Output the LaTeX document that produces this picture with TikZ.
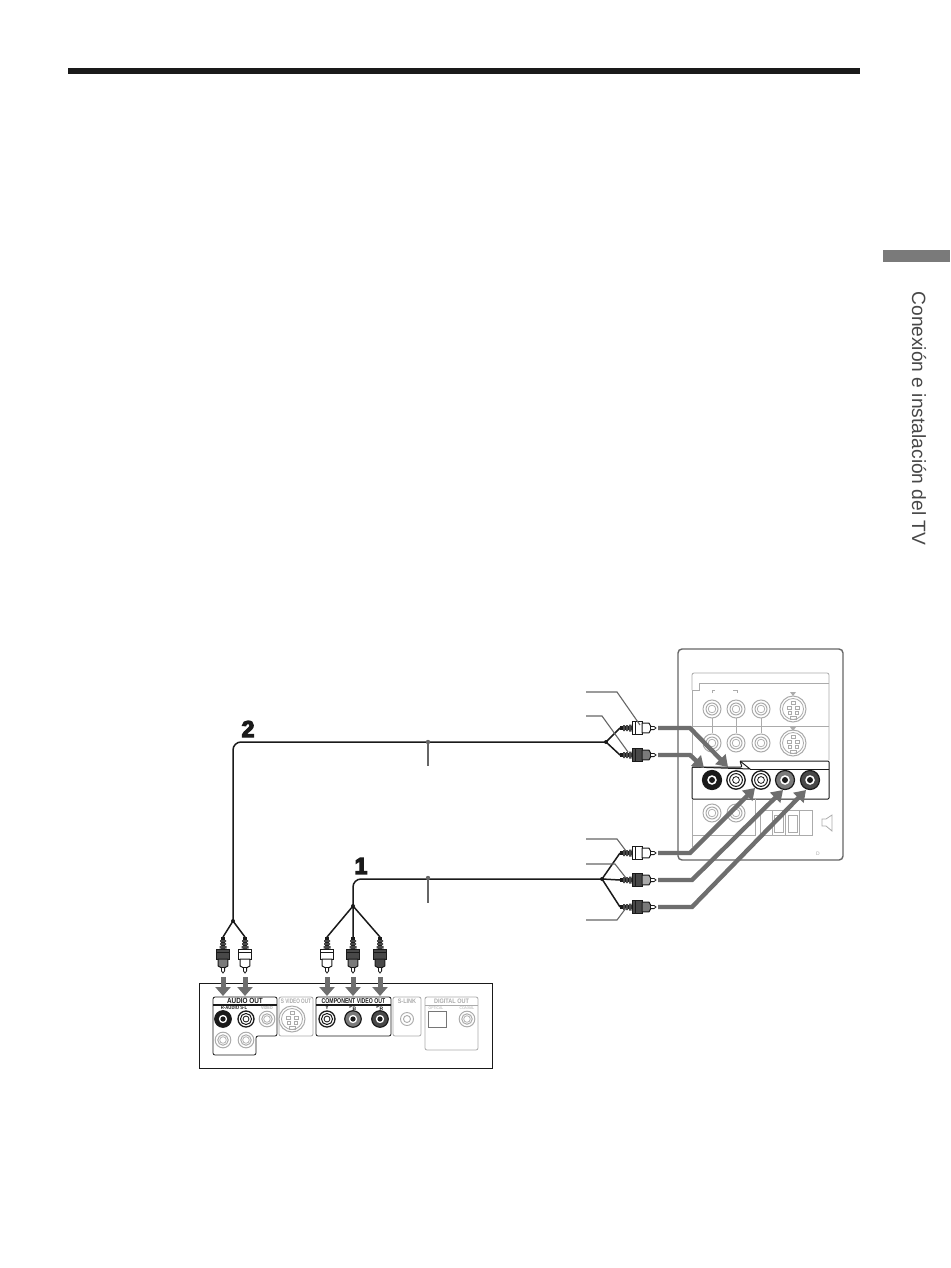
\documentclass[tikz,border=0pt]{standalone}
\usepackage{fontspec}
\usepackage{graphicx}
\setmainfont{Liberation Sans}
\usetikzlibrary{arrows.meta}
\definecolor{ink}{HTML}{1A1A1A}
\definecolor{pale}{HTML}{ABABAB}
\definecolor{arrowgray}{HTML}{6E6E6E}
\definecolor{leader}{HTML}{666666}
\definecolor{midgray}{HTML}{7A7A7A}
\definecolor{darkgray}{HTML}{484848}
\tikzset{
  cablewire/.style={draw=ink,line width=1.5pt},
  leaderline/.style={draw=leader,line width=1.1pt},
  flowh/.style={draw=arrowgray,line width=4.4pt,-{Triangle[width=14pt,length=11pt]}},
  flowv/.style={draw=arrowgray,line width=5pt,-{Triangle[width=15pt,length=9pt]}},
  paleline/.style={draw=pale,line width=.8pt},
  panelline/.style={draw=ink,line width=1pt},
  lbl/.style={inner sep=0pt,outer sep=0pt,text=ink},
  dotnode/.style={circle,fill=ink,inner sep=0pt,minimum size=4pt},
}
\def\jr{1}
% dark jack
\newcommand{\jackdark}[3]{%
  \fill[#3] (#1,#2) circle ({9.5*\jr});
  \draw[ink,line width=1.2pt] (#1,#2) circle ({9.5*\jr});
  \fill[white] (#1,#2) circle ({4.8*\jr});
  \fill[ink] (#1,#2) circle ({3*\jr});
}
\newcommand{\jackwhite}[2]{%
  \fill[white] (#1,#2) circle ({9.5*\jr});
  \draw[ink,line width=1.3pt] (#1,#2) circle ({9.2*\jr});
  \draw[ink,line width=1pt] (#1,#2) circle ({6.4*\jr});
  \draw[ink,line width=.8pt] (#1,#2) circle ({3.4*\jr});
}
\newcommand{\jackpale}[2]{%
  \draw[pale,line width=1pt,fill=white] (#1,#2) circle ({9*\jr});
  \draw[pale,line width=1pt] (#1,#2) circle ({6*\jr});
  \draw[pale,line width=.7pt] (#1,#2) circle ({3.8*\jr});
}
\newcommand{\svideo}[2]{%
  \begin{scope}[shift={(#1,#2)}]
    \draw[pale,line width=1pt,fill=white] (0,0) circle (13);
    \draw[pale,line width=.8pt] (0,0) circle (10.5);
    \draw[pale,line width=.8pt] (-6,-3) rectangle (-2,0) (2,-3) rectangle (6,0);
    \draw[pale,line width=.8pt] (-5,2) rectangle (-2,5) (2,2) rectangle (5,5);
    \draw[pale,line width=.8pt] (-3,7) rectangle (3,10);
    \draw[pale,line width=.8pt] (-2,-8) rectangle (2,-5);
  \end{scope}%
}
% plug: axis runs along local x, from strain relief to tip
\newcommand{\plug}[5]{% x, y, rotation, collar colour, body colour
  \begin{scope}[shift={(#1,#2)},rotate=#3]
    \fill[ink] (0,-2) rectangle (12,2);
    \fill[darkgray] (3,-3) rectangle (5,3) (6,-3) rectangle (8,3) (9,-3.5) rectangle (11.5,3.5);
    \draw[ink,line width=1pt,fill=#5] (12,-6.2) rectangle (22,6.2);
    \draw[ink,line width=.7pt] (15,-6.2) -- (15,6.2);
    \draw[ink,line width=1pt,fill=#4] (22,-4.8) -- (29,-4.8) -- (30.5,-2.2) -- (30.5,2.2) -- (29,4.8) -- (22,4.8) -- cycle;
    \draw[ink,line width=.8pt,fill=white] (30.5,-1.6) -- (34,-1.6) -- (36,0) -- (34,1.6) -- (30.5,1.6) -- cycle;
  \end{scope}%
}
\begin{document}
\begin{tikzpicture}[x=1pt,y=-1pt]
\useasboundingbox (0,0) rectangle (950,1268);
\fill[white] (0,0) rectangle (950,1268);
% page furniture
\fill[ink] (68,68) rectangle (860,74);
\fill[midgray] (883,250) rectangle (950,262);
\node[lbl,rotate=-90,anchor=center,text=darkgray] (sidetitle) at (919,418.5) {\fontsize{19.2}{21}\selectfont Conexión e instalación del TV};

% TV panel
\draw[draw=leader,line width=1.4pt,rounded corners=4pt] (678,649) rectangle (843,860);
\draw[paleline,rounded corners=2pt] (692,690) -- (692,673) -- (829,673) -- (829,760);
\draw[paleline] (692,690) -- (699,690) -- (699,683) -- (829,683);
\draw[paleline] (692,726) -- (829,726);
\draw[paleline] (692,690) -- (692,760);
\draw[pale,line width=.8pt] (712,693) -- (712,690) -- (715,690) (733,690) -- (737,690) -- (737,693);
\foreach \tx in {712,736,761} {\draw[paleline] (\tx,718) -- (\tx,733);}
\foreach \tx in {712,736,761} {\jackpale{\tx}{709}\jackpale{\tx}{743}}
\svideo{793}{709}
\svideo{793}{743}
\fill[pale] (790,692) -- (796,692) -- (793,696) -- cycle;
\fill[pale] (790,727) -- (796,727) -- (793,731) -- cycle;
% highlighted panel
\draw[panelline,rounded corners=1pt,fill=white] (692,767) -- (742,767) -- (740,761) -- (829,761) -- (829,799) -- (692,799) -- cycle;
\draw[panelline] (692,767) -- (750,769) -- (740,761);
\draw[panelline] (750,769) -- (829,769);
\jackdark{712}{780}{ink}
\jackwhite{736}{780}
\jackwhite{761}{780}
\jackdark{785}{780}{midgray}
\jackdark{810}{780}{darkgray}
% below panel
\draw[paleline] (692,799) -- (692,847);
\draw[paleline] (755,799) -- (755,835) -- (692,835);
\jackpale{712}{813}
\jackpale{736}{813}
\draw[paleline] (760,810) rectangle (812,835);
\draw[paleline] (772,810) -- (772,835) (785,810) -- (785,835) (799,810) -- (799,835);
\draw[paleline] (774,815) rectangle (783,832) (788,815) rectangle (797,832);
\draw[paleline] (822,819) -- (826,819) -- (832,815) -- (832,831) -- (826,826) -- (822,826) -- cycle;
\node[lbl,text=pale] (tvmark) at (818,854) {\fontsize{5}{6}\selectfont D};

% named connector ends
\coordinate (hub2) at (606,742);
\coordinate (elbow2) at (233,742);
\coordinate (drop2) at (233,921);
\coordinate (hub1) at (602,879);
\coordinate (elbow1) at (353,879);
\coordinate (drop1) at (353,906);
\coordinate (pA) at (620,728);
\coordinate (pB) at (620,755);
\coordinate (pC) at (620,853);
\coordinate (pD) at (620,880);
\coordinate (pE) at (620,907);
\coordinate (vA) at (223,937);
\coordinate (vB) at (245,937);
\coordinate (vC) at (327,937);
\coordinate (vD) at (353,937);
\coordinate (vE) at (380,937);

% cables
\draw[cablewire,rounded corners=8pt] (hub2) -- (elbow2) -- (drop2);
\draw[cablewire,rounded corners=8pt] (hub1) -- (elbow1) -- (drop1);
\draw[cablewire] (hub2) -- (pA) (hub2) -- (pB);
\draw[cablewire] (hub1) -- (pC) (hub1) -- (pD) (hub1) -- (pE);
\draw[cablewire] (drop2) -- (vA) (drop2) -- (vB);
\draw[cablewire] (drop1) -- (vC) (drop1) -- (vD) (drop1) -- (vE);
\node[dotnode] (hub2dot) at (hub2) {};
\node[dotnode] (hub1dot) at (hub1) {};
\node[dotnode] (drop2dot) at (drop2) {};
\node[dotnode] (drop1dot) at (drop1) {};

% cable leaders
\coordinate (tick2a) at (428,742);
\coordinate (tick2b) at (428,766);
\coordinate (tick1a) at (428,878);
\coordinate (tick1b) at (428,903);
\draw[leaderline,line width=1.3pt] (tick2a) -- (tick2b);
\draw[leaderline,line width=1.3pt] (tick1a) -- (tick1b);
\fill[leader] (tick2a) circle (2.2);
\fill[leader] (tick1a) circle (2.2);

% plugs at the TV end
\plug{620}{728}{0}{white}{white}
\plug{620}{755}{0}{midgray}{darkgray}
\plug{620}{853}{0}{white}{white}
\plug{620}{880}{0}{pale}{darkgray}
\plug{620}{907}{0}{midgray}{darkgray}

% plug leaders
\draw[leaderline] (586,692) -- (617,692) -- (640,725);
\draw[leaderline] (586,716) -- (602,716) -- (628,752);
\draw[leaderline] (586,839) -- (617,839) -- (626,851);
\draw[leaderline] (586,864) -- (615,864) -- (626,878);
\draw[leaderline] (586,920) -- (617,920) -- (626,908);

% number labels
\node[lbl] (num2) at (248,729) {\special{pdf:literal direct 2 Tr 1.3 w}\fontsize{23}{24}\selectfont\bfseries 2\special{pdf:literal direct 0 Tr 0 w}};
\node[lbl] (num1) at (361,866) {\special{pdf:literal direct 2 Tr 1.3 w}\fontsize{23}{24}\selectfont\bfseries 1\special{pdf:literal direct 0 Tr 0 w}};

% flow arrows to the TV
\draw[flowh] (658,728) -- (690,728) -- (728,767);
\draw[flowh] (658,755) -- (690,755) -- (704,768);
\draw[flowh] (658,853) -- (690,853) -- (755,788);
\draw[flowh] (658,880) -- (692,880) -- (783,790);
\draw[flowh] (658,907) -- (692,907) -- (806,790);

% DVD box
\draw[ink,line width=1pt] (199,983) rectangle (492,1068);
% plugs at the player end
\plug{223}{937}{-90}{midgray}{darkgray}
\plug{245}{937}{-90}{white}{white}
\plug{327}{937}{-90}{white}{white}
\plug{353}{937}{-90}{midgray}{darkgray}
\plug{380}{937}{-90}{darkgray}{darkgray}
\foreach \ax in {223,245,327,353,380} {\draw[flowv] (\ax,977) -- (\ax,996);}

\def\jr{.87}
% audio out
\draw[draw=ink,line width=.8pt,rounded corners=2pt] (213,1005) -- (213,997) -- (277,997) -- (277,1036) -- (256,1036) -- (256,1055) -- (213,1055) -- cycle;
\draw[ink,line width=1.3pt] (213,1005) -- (277,1005);
\jackdark{223}{1019}{ink}
\jackwhite{246}{1019}
\jackpale{267}{1019}
\jackpale{223}{1040}
\jackpale{246}{1040}
\node[lbl] (audioout) at (245,1001) {\scalebox{.85}[1]{\fontsize{7.5}{8}\selectfont\bfseries AUDIO OUT}};
\node[lbl] (audiosub) at (234,1008) {\scalebox{.85}[1]{\fontsize{5}{5}\selectfont\bfseries R-AUDIO S-L}};
\node[lbl,text=pale] (videolbl) at (267,1008) {\scalebox{.85}[1]{\fontsize{4.5}{5}\selectfont\bfseries VIDEO}};

% s video out
\draw[paleline,rounded corners=2pt] (279,997) rectangle (313,1036);
\svideo{292}{1019}
\node[lbl,text=pale] (svout) at (296,1001) {\scalebox{.72}[1]{\fontsize{6.5}{7}\selectfont\bfseries S VIDEO OUT}};

% component
\draw[draw=ink,line width=.8pt,rounded corners=2pt] (316,997) rectangle (391,1036);
\draw[ink,line width=1.3pt] (316,1005) -- (391,1005);
\jackwhite{327}{1019}
\jackdark{353}{1019}{midgray}
\jackdark{380}{1019}{darkgray}
\node[lbl] (compout) at (353.5,1001) {\scalebox{.74}[1]{\fontsize{7}{8}\selectfont\bfseries COMPONENT VIDEO OUT}};
\node[lbl] (ylbl) at (327,1008) {\fontsize{5}{5}\selectfont\bfseries Y};
\node[lbl] (pblbl) at (353,1008) {\fontsize{5}{5}\selectfont\bfseries P\textsubscript{B}};
\node[lbl] (prlbl) at (380,1008) {\fontsize{5}{5}\selectfont\bfseries P\textsubscript{R}};

% s-link
\draw[paleline,rounded corners=2pt] (393,997) rectangle (421,1036);
\node[lbl,text=pale] (slink) at (407,1001) {\scalebox{.85}[1]{\fontsize{6.5}{7}\selectfont\bfseries S-LINK}};
\draw[pale,line width=.9pt] (407,1019) circle (6.5) (407,1019) circle (3.5);

% digital out
\draw[paleline,rounded corners=2pt] (425,997) rectangle (478,1050);
\draw[paleline] (425,1005) -- (478,1005);
\node[lbl,text=pale] (digout) at (451.5,1001) {\scalebox{.85}[1]{\fontsize{6.5}{7}\selectfont\bfseries DIGITAL OUT}};
\node[lbl,text=pale] (optlbl) at (436,1008) {\scalebox{.85}[1]{\fontsize{4}{5}\selectfont OPTICAL}};
\node[lbl,text=pale] (coaxlbl) at (467,1008) {\scalebox{.85}[1]{\fontsize{4}{5}\selectfont COAXIAL}};
\draw[draw=ink!60,line width=.7pt] (428,1011) rectangle (446,1027);
\jackpale{467}{1019}
\end{tikzpicture}
\end{document}
